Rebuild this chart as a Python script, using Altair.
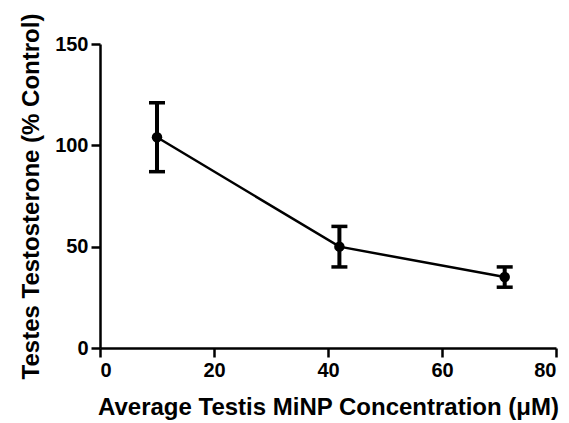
import altair as alt
import pandas as pd

conc = [10, 42, 71]
testo = [104, 50, 35]
err = [17, 10, 5]

df = pd.DataFrame({
    "x": conc,
    "y": testo,
    "lo": [v - e for v, e in zip(testo, err)],
    "hi": [v + e for v, e in zip(testo, err)],
})

FONT = "Liberation Sans"

xs = alt.Scale(domain=[0, 80], nice=False)
ys = alt.Scale(domain=[0, 150], nice=False)

xax = alt.Axis(values=[0, 20, 40, 60, 80], title="Average Testis MiNP Concentration (\u03bcM)",
               titlePadding=15, titleFontSize=24)
yax = alt.Axis(values=[0, 50, 100, 150], title="Testes Testosterone (% Control)",
               titlePadding=11, titleFontSize=24)

base = alt.Chart(df)

line = base.mark_line(color="black", strokeWidth=2.5).encode(
    x=alt.X("x:Q", scale=xs, axis=xax),
    y=alt.Y("y:Q", scale=ys, axis=yax),
)
pts = base.mark_point(filled=True, color="black", size=110, opacity=1).encode(
    x=alt.X("x:Q", scale=xs), y=alt.Y("y:Q", scale=ys)
)
rule = base.mark_rule(color="black", strokeWidth=4).encode(
    x=alt.X("x:Q", scale=xs), y=alt.Y("lo:Q", scale=ys), y2="hi:Q"
)
cap_hi = base.mark_tick(color="black", orient="horizontal", size=16, thickness=3.5, opacity=1).encode(
    x=alt.X("x:Q", scale=xs), y=alt.Y("hi:Q", scale=ys)
)
cap_lo = base.mark_tick(color="black", orient="horizontal", size=16, thickness=3.5, opacity=1).encode(
    x=alt.X("x:Q", scale=xs), y=alt.Y("lo:Q", scale=ys)
)

chart = alt.layer(line, rule, cap_hi, cap_lo, pts).properties(
    width=456, height=304,
    autosize=alt.AutoSizeParams(type="none"),
    padding={"left": 92, "top": 36, "right": 5, "bottom": 78},
    background="white",
).configure_view(stroke=None).configure_axis(
    grid=False,
    domainColor="black", domainWidth=2.5,
    tickColor="black", tickWidth=2.5, tickSize=9,
    labelFont=FONT, labelFontWeight="bold", labelFontSize=20, labelColor="black",
    labelPadding=3,
    titleFont=FONT, titleFontWeight="bold", titleColor="black",
)

chart.save("out.html", embed_options={"renderer": "svg", "actions": False})
